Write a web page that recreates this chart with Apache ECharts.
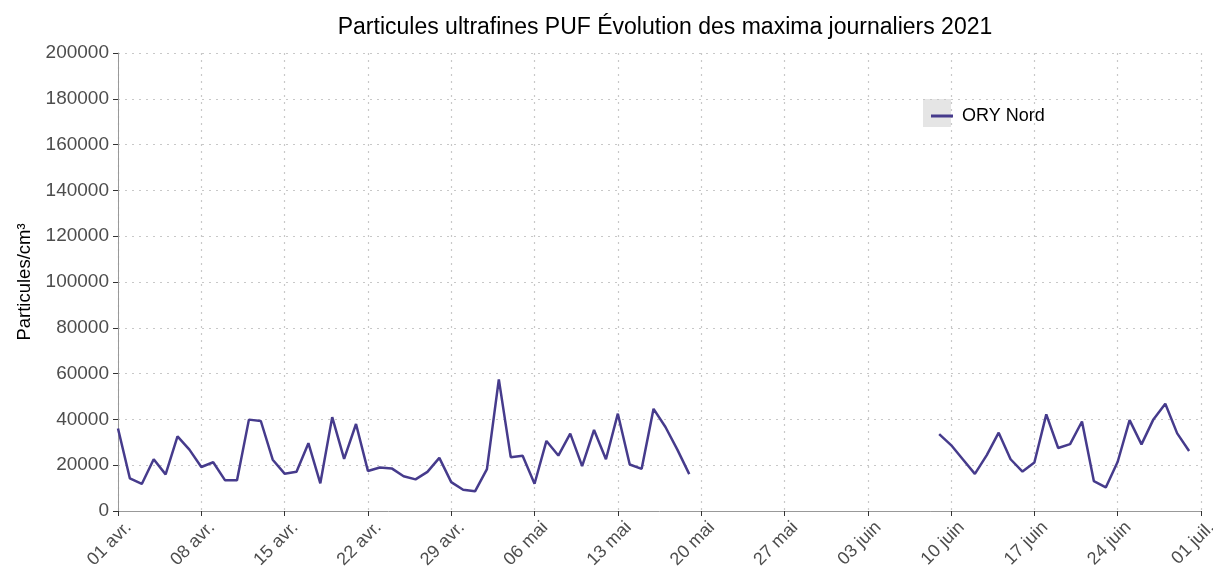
<!DOCTYPE html>
<html><head><meta charset="utf-8">
<script src="https://cdn.jsdelivr.net/npm/echarts@6/dist/echarts.min.js"></script>
<style>html,body{margin:0;padding:0;background:#fff}#c{width:1213px;height:572px}</style>
</head><body><div id="c"></div>
<script>
// Day index 0 = 01 avr. 2021
const tickLabels = ['01 avr.','08 avr.','15 avr.','22 avr.','29 avr.','06 mai','13 mai','20 mai','27 mai','03 juin','10 juin','17 juin','24 juin','01 juil.'];
const aprilValues = [36000,14200,11800,22600,16000,32600,26800,19200,21300,13400,13400,39900,39300,22400,16300,17100,29600,12100,41000,22800,38000,17500,19000,18600,15200,13800,17100,23200,12600,9300];
const mayValues = [8600,18300,57500,23500,24100,11900,30600,24200,33800,19600,35400,22600,42500,20300,18400,44600,36700,26800,16100,null,null,null,null,null,null,null,null,null,null,null,null];
const juneValues = [null,null,null,null,null,null,null,null,33600,28800,22500,16200,24400,34200,22600,17200,21200,42200,27500,29200,39100,13000,10300,21500,39700,29100,40000,46800,33900,26200];
const seriesName = 'ORY Nord';

const allValues = aprilValues.concat(mayValues, juneValues);
const data = allValues.map((v, i) => [i, v]);

const chart = echarts.init(document.getElementById('c'));
const font = 'Liberation Sans, Arial, sans-serif';
chart.setOption({
  animation: false,
  backgroundColor: '#fff',
  title: {
    text: 'Particules ultrafines PUF Évolution des maxima journaliers 2021',
    left: 660, top: 11, textAlign: 'center',
    textStyle: {fontFamily: font, fontSize: 23, fontWeight: 'normal', color: '#000'}
  },
  graphic: [{type: 'rect', left: 923, top: 99, shape: {width: 28, height: 28}, style: {fill: '#e5e5e5'}, z: 0}],
  legend: {
    left: 926, top: 102, icon: 'rect', itemWidth: 22, itemHeight: 3, itemGap: 10,
    textStyle: {fontFamily: font, fontSize: 18, color: '#000', padding: [0, 0, 0, 4]},
    data: [seriesName]
  },
  grid: {left: 118, right: 12, top: 53, bottom: 61, containLabel: false, outerBoundsMode: 'none'},
  xAxis: {
    type: 'value', min: 0, max: 91, interval: 7,
    axisLine: {show: true, lineStyle: {color: '#999', width: 1}},
    axisTick: {show: true, length: 5, lineStyle: {color: '#333'}},
    axisLabel: {
      rotate: 45, fontFamily: font, fontSize: 18, color: '#4d4d4d', margin: 3,
      align: 'right', verticalAlign: 'top', lineHeight: 30, hideOverlap: false,
      formatter: v => tickLabels[Math.round(v / 7)] || ''
    },
    splitLine: {show: true, lineStyle: {color: '#c8c8c8', type: [2, 5], width: 1.2}}
  },
  yAxis: {
    type: 'value', min: 0, max: 200000, interval: 20000,
    name: 'Particules/cm³', nameLocation: 'middle', nameGap: 84,
    nameTextStyle: {fontFamily: font, fontSize: 18.5, color: '#000'},
    axisLine: {show: true, lineStyle: {color: '#999', width: 1}},
    axisTick: {show: true, length: 5, lineStyle: {color: '#333'}},
    axisLabel: {fontFamily: font, fontSize: 19, color: '#4d4d4d', margin: 9, formatter: v => String(v)},
    splitLine: {show: true, lineStyle: {color: '#c8c8c8', type: [2, 5], width: 1.2}}
  },
  series: [{
    name: seriesName, type: 'line', data: data, showSymbol: false, symbol: 'none',
    connectNulls: false,
    lineStyle: {color: '#463b8c', width: 2.5},
    itemStyle: {color: '#463b8c'}
  }]
});
</script></body></html>
